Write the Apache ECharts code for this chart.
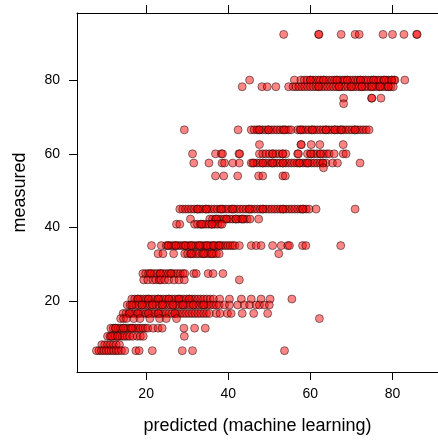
<!DOCTYPE html>
<html lang="en">
<head>
    <meta charset="UTF-8">
    <title>measured vs predicted</title>
    <script src="https://cdn.jsdelivr.net/npm/echarts@6/dist/echarts.min.js"></script>
    <style>
        html, body { margin: 0; padding: 0; background: #fff; }
        #main { width: 438px; height: 440px; }
    </style>
</head>
<body>
<div id="main"></div>
<script>
// tick labels
var xTicks = [20, 40, 60, 80];
var yTicks = [20, 40, 60, 80];

var m92 = 92.4, p92 = [53.5, 62.0, 62.1, 67.5, 70.9, 71.9, 77.7, 80.0, 82.8, 85.9, 86.0];
var m80 = 80.0, p80 = [45.2, 56.1, 57.7, 58.5, 59.2, 60.0, 60.6, 61.3, 62.0, 62.5, 63.2, 63.9, 64.6, 65.3, 65.9, 66.5, 67.2, 67.9, 68.4, 69.0, 69.7, 70.4, 71.0, 71.6, 72.2, 72.9, 73.5, 74.1, 74.8, 75.4, 76.0, 76.6, 77.2, 77.9, 78.5, 79.1, 79.8, 80.4, 80.6, 83.0,
    60.0, 63.2, 66.5, 69.0, 72.2, 75.4, 78.0, 79.8];
var m78 = 78.2, p78 = [43.4, 48.2, 49.5, 51.6, 54.7, 55.8, 56.5, 57.2, 57.9, 58.6, 59.3, 60.0, 60.7, 61.4, 62.1, 62.8, 63.5, 64.2, 64.9, 65.6, 66.3, 67.0, 67.7, 68.4, 69.1, 69.8, 70.5, 71.2, 71.9, 72.6, 73.3, 74.0, 74.7, 75.4, 76.1, 76.8, 77.5, 78.2, 78.9, 79.6, 80.2,
    62.0, 67.0, 70.0, 72.5, 75.0, 77.0, 79.0];
var m75 = 75.1, p75 = [68.1, 74.9, 75.0, 77.2];
var m73 = 73.6, p73 = [68.1];
var m66 = 66.5, p66 = [29.3, 42.4, 45.6, 46.3, 47.0, 47.7, 48.4, 49.1, 49.8, 50.5, 51.2, 51.9, 52.6, 53.3, 54.0, 54.7, 55.3, 56.9, 57.5, 58.2, 58.9, 59.6, 60.3, 61.0, 61.7, 62.4, 63.1, 63.8, 64.5, 65.2, 65.9, 66.6, 67.3, 68.0, 68.7, 69.4, 70.1, 70.8, 71.5, 72.2, 72.9, 73.6, 74.3,
    47.5, 49.8, 53.6, 57.7, 60.5, 63.8, 66.0, 67.5, 70.9];
var m62 = 62.5, p62 = [47.6, 57.7, 57.8, 60.2, 62.3, 68.0];
var m60 = 60.0, p60 = [31.3, 36.9, 38.3, 38.6, 42.6, 42.8, 47.6, 48.4, 49.2, 50.0, 50.8, 51.6, 52.4, 53.2, 54.0, 50.8, 53.3, 56.9, 57.1, 59.3, 60.0, 60.8, 61.6, 62.4, 63.2, 64.0, 64.6, 60.2, 62.5, 65.8, 68.0, 68.7];
var m57 = 57.5, p57 = [31.6, 35.3, 38.5, 39.1, 41.1, 42.7, 45.6, 46.3, 47.0, 47.7, 48.4, 49.1, 49.8, 50.5, 51.2, 51.9, 52.6, 53.3, 54.0, 54.7, 55.4, 56.1, 56.8, 57.5, 58.2, 58.9, 59.6, 60.3, 61.0, 61.7, 62.4, 63.1, 63.8,
    46.0, 48.4, 50.8, 53.3, 57.3, 59.3, 63.0, 65.4, 66.6, 72.1];
var m56 = 56.2, p56 = [63.2];
var m54 = 54.0, p54 = [36.9, 38.9, 42.3, 47.4, 48.4, 53.3, 53.9];
var m45 = 45.0, p45 = [28.2, 28.9, 29.6, 30.3, 31.0, 31.7, 32.4, 33.1, 33.8, 34.5, 35.2, 35.9, 36.6, 37.3, 38.0, 38.7, 39.4, 40.1, 40.8, 41.5, 42.2, 42.9, 43.6, 44.3, 45.0, 45.7, 46.4, 47.1, 47.8, 48.5, 49.2, 49.9, 50.6, 51.3, 52.0, 52.7, 53.4, 54.1, 54.8, 55.5, 56.2, 56.9, 57.6, 58.3, 59.0, 59.7,
    32.6, 34.7, 38.3, 41.1, 45.2, 48.4, 53.3, 58.1, 61.4, 70.9];
var m42 = 42.3, p42 = [30.8, 35.5, 36.2, 36.9, 37.6, 38.3, 39.0, 39.7, 40.4, 41.1, 41.8, 42.5, 43.2, 43.9, 44.6, 45.3, 37.1, 39.5, 41.9, 43.5, 47.4];
var m41 = 40.9, p41 = [27.4, 28.2, 31.8, 32.5, 33.2, 33.9, 34.6, 35.3, 36.0, 36.7, 37.4, 38.1, 38.5, 33.5, 36.0];
var m35 = 35.1, p35 = [21.3, 23.7, 24.9, 25.5, 26.1, 26.7, 27.3, 27.9, 28.5, 29.1, 29.7, 30.3, 30.9, 31.5, 32.1, 32.7, 33.3, 33.9, 34.5, 35.1, 35.7, 36.3, 36.9, 37.5, 38.1, 38.7, 39.3, 39.9, 40.5, 41.1,
    25.3, 27.2, 29.5, 31.0, 33.0, 34.8, 36.4, 37.8, 41.6, 42.7, 45.6, 46.8, 48.0, 50.8, 52.9, 54.5, 54.9, 58.1, 58.9, 67.4];
var m33 = 32.9, p33 = [22.9, 24.1, 26.7, 29.4, 30.1, 30.8, 31.5, 32.2, 32.9, 33.6, 34.3, 35.0, 35.7, 36.4, 37.1, 37.8, 31.0, 34.0, 36.0, 52.3];
var m27 = 27.5, p27 = [19.2, 19.9, 20.6, 21.3, 22.0, 22.7, 23.4, 24.1, 24.8, 25.5, 26.2, 26.9, 27.6, 28.3, 29.0, 29.4, 21.0, 23.5, 26.0, 31.6, 32.2, 35.1, 36.3, 38.7];
var m26 = 25.8, p26 = [19.4, 20.4, 21.6, 22.4, 23.2, 23.6, 24.5, 25.5, 26.8, 28.0, 29.3, 42.7];
var m21 = 20.6, p21 = [16.5, 17.2, 17.9, 18.6, 19.3, 20.0, 20.7, 21.4, 22.1, 22.8, 23.5, 24.2, 24.9, 25.6, 26.3, 27.0, 27.7, 28.4, 29.1, 29.8, 30.5, 31.2, 31.9, 32.6, 33.3, 34.0, 34.8, 35.6, 36.4, 37.9,
    18.0, 20.5, 23.0, 25.5, 28.0, 30.5, 40.3, 43.2, 45.6, 48.0, 50.2, 55.5];
var m19 = 19.0, p19 = [15.4, 16.1, 16.8, 17.5, 18.2, 18.9, 19.6, 20.3, 21.0, 21.7, 22.4, 23.1, 23.8, 24.5, 25.2, 25.9, 26.6, 27.3, 28.0, 28.7, 29.4, 30.1, 30.8, 31.5, 32.2, 32.9, 33.6, 34.3, 35.0, 35.7, 36.4, 37.1, 37.8,
    16.5, 19.0, 21.5, 24.0, 26.5, 29.0, 31.5, 34.0, 39.1, 40.3, 42.3, 43.9, 45.2, 46.8, 47.6, 48.8, 50.0];
var m17 = 16.7, p17 = [14.4, 15.1, 15.8, 16.5, 17.2, 17.9, 18.6, 19.3, 20.0, 20.7, 21.4, 22.1, 22.8, 23.5, 24.2, 24.9, 25.6, 26.3, 27.0, 27.7, 28.4, 29.1, 29.8, 30.5, 31.2, 31.9, 32.6, 33.3, 34.0, 34.7, 35.4,
    16.0, 18.0, 20.5, 23.0, 27.0, 37.1, 38.0, 39.8, 40.7, 43.4, 46.2, 49.6];
var m15 = 15.3, p15 = [13.8, 14.5, 15.2, 17.0, 18.5, 20.9, 23.3, 24.9, 27.4, 62.2];
var m13 = 12.7, p13 = [11.4, 12.0, 12.6, 13.2, 13.8, 14.4, 15.0, 15.6, 16.2, 16.8, 17.4, 18.0, 18.6, 19.2, 19.8, 20.4, 12.5, 14.5, 16.5, 21.7, 22.9, 23.9, 29.2, 31.8, 34.4];
var m10 = 10.5, p10 = [10.6, 11.2, 11.8, 12.4, 13.0, 13.6, 14.2, 14.8, 15.4, 16.0, 16.8, 17.8, 18.6, 19.3, 11.5, 13.0, 29.3];
var m8 = 8.2, p8 = [9.2, 9.9, 10.6, 11.3, 12.0, 12.7, 13.5];
var m7 = 6.6, p7 = [7.9, 8.5, 9.1, 9.7, 10.3, 10.9, 11.5, 12.1, 12.7, 13.3, 14.0, 14.8, 17.5, 18.3, 21.5, 28.8, 31.3, 53.7];

var rows = [
    [m92, p92], [m80, p80], [m78, p78], [m75, p75], [m73, p73], [m66, p66], [m62, p62],
    [m60, p60], [m57, p57], [m56, p56], [m54, p54], [m45, p45], [m42, p42], [m41, p41],
    [m35, p35], [m33, p33], [m27, p27], [m26, p26], [m21, p21], [m19, p19], [m17, p17],
    [m15, p15], [m13, p13], [m10, p10], [m8, p8], [m7, p7]
];
var points = [];
rows.forEach(function (r) {
    r[1].forEach(function (x) { points.push([x, r[0]]); });
});

var font = 'Liberation Sans, Arial, Helvetica, sans-serif';
var lineStyle = { color: '#000', width: 1 };

var myChart = echarts.init(document.getElementById('main'));
var option = {
    animation: false,
    backgroundColor: '#fff',
    grid: { left: 77, top: 13, width: 362, height: 362 },
    xAxis: [{
        type: 'value',
        min: 3.16, max: 91.09,
        position: 'bottom',
        name: 'predicted (machine learning)',
        nameLocation: 'middle',
        nameGap: 45,
        nameTextStyle: { fontFamily: font, fontSize: 18, color: '#000' },
        splitLine: { show: false },
        axisLine: { show: true, onZero: false, lineStyle: lineStyle },
        axisTick: { show: true, inside: false, length: 8, customValues: xTicks, lineStyle: lineStyle },
        axisLabel: { show: true, margin: 15, fontFamily: font, fontSize: 14, color: '#000', customValues: xTicks }
    }, {
        type: 'value',
        min: 3.16, max: 91.09,
        position: 'top',
        splitLine: { show: false },
        axisLine: { show: true, onZero: false, lineStyle: lineStyle },
        axisTick: { show: true, inside: false, length: 8, customValues: xTicks, lineStyle: lineStyle },
        axisLabel: { show: false }
    }],
    yAxis: [{
        type: 'value',
        min: 0.81, max: 98.2,
        position: 'left',
        name: 'measured',
        nameLocation: 'middle',
        nameGap: 48,
        nameTextStyle: { fontFamily: font, fontSize: 18, color: '#000' },
        splitLine: { show: false },
        axisLine: { show: true, onZero: false, lineStyle: lineStyle },
        axisTick: { show: true, inside: false, length: 8, customValues: yTicks, lineStyle: lineStyle },
        axisLabel: { show: true, margin: 17, fontFamily: font, fontSize: 14, color: '#000', customValues: yTicks }
    }, {
        type: 'value',
        min: 0.81, max: 98.2,
        position: 'right',
        splitLine: { show: false },
        axisLine: { show: true, onZero: false, lineStyle: lineStyle },
        axisTick: { show: true, inside: false, length: 8, customValues: yTicks, lineStyle: lineStyle },
        axisLabel: { show: false }
    }],
    series: [{
        type: 'scatter',
        xAxisIndex: 0,
        yAxisIndex: 0,
        symbol: 'circle',
        symbolSize: 8,
        data: points,
        itemStyle: {
            color: 'rgba(255,0,0,0.6)',
            borderColor: 'rgba(0,0,0,0.6)',
            borderWidth: 1
        }
    }]
};
myChart.setOption(option);
window.onresize = myChart.resize;
</script>
</body>
</html>
